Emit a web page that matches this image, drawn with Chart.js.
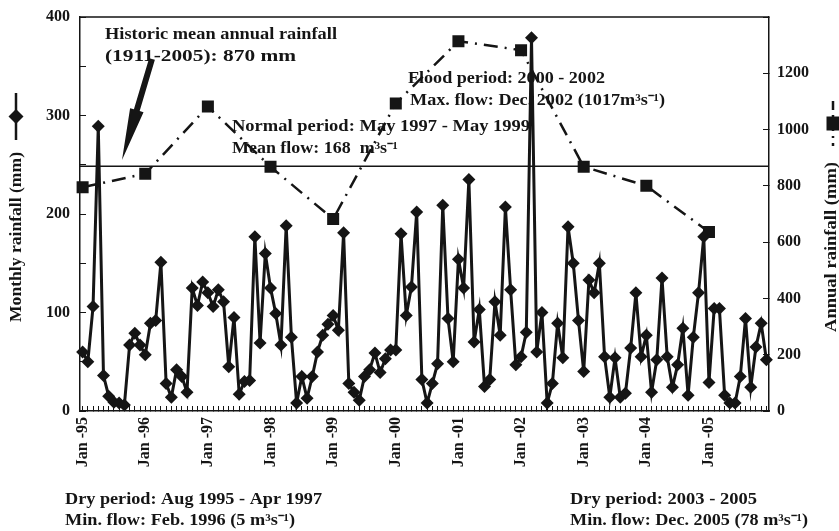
<!DOCTYPE html>
<html>
<head>
<meta charset="utf-8">
<script src="https://cdn.jsdelivr.net/npm/chart.js@4.4.0/dist/chart.umd.min.js"></script>
<style>
  html, body { margin: 0; padding: 0; background: #fff; }
</style>
</head>
<body>
<canvas id="rainChart" width="839" height="531"></canvas>
<script>
const years = ["95", "96", "97", "98", "99", "00", "01", "02", "03", "04", "05"];
const monthNames = ["Jan", "Feb", "Mar", "Apr", "May", "Jun", "Jul", "Aug", "Sep", "Oct", "Nov", "Dec"];

// monthly rainfall (mm), Jan..Dec
const rain1995 = [60, 50, 106, 289, 36, 15, 9, 8, 6, 67, 79, 67];
const rain1996 = [57, 89, 92, 151, 28, 14, 42, 35, 19, 125, 107, 131];
const rain1997 = [120, 106, 123, 111, 45, 95, 17, 30, 31, 177, 69, 160];
const rain1998 = [125, 99, 67, 188, 75, 8, 35, 13, 35, 60, 77, 88];
const rain1999 = [97, 82, 181, 28, 19, 11, 35, 42, 59, 39, 53, 62];
const rain2000 = [62, 180, 97, 126, 202, 32, 8, 28, 48, 209, 94, 50];
const rain2001 = [154, 125, 235, 70, 103, 25, 32, 111, 77, 207, 123, 47];
const rain2002 = [55, 80, 379, 60, 100, 8, 28, 89, 54, 187, 150, 92];
const rain2003 = [40, 133, 120, 150, 55, 14, 54, 14, 18, 64, 120, 55];
const rain2004 = [77, 19, 52, 135, 55, 24, 47, 84, 16, 75, 120, 177];
const rain2005 = [29, 104, 104, 16, 8, 8, 35, 94, 24, 65, 89, 52];

// annual rainfall (mm), 1995..2005
const annualRain = [795, 843, 1082, 868, 682, 1093, 1314, 1282, 868, 800, 636];
const historicMean = 870;

const labels = years.flatMap((y) => monthNames.map((m) => m + " -" + y));
const monthly = [].concat(rain1995, rain1996, rain1997, rain1998, rain1999, rain2000,
  rain2001, rain2002, rain2003, rain2004, rain2005);
const annual = labels.map((l, i) => (i % 12 === 0 ? annualRain[i / 12] : null));

const serif = "'Liberation Serif', 'Times New Roman', serif";
const ink = "#151515";

// squeeze/stretch a text line to the width seen on the figure
function putText(ctx, s, x, y, w, rot) {
  const m = ctx.measureText(s).width;
  ctx.save();
  ctx.translate(x, y);
  if (rot) ctx.rotate(rot);
  ctx.scale(w / m, 1);
  ctx.fillText(s, 0, 0);
  ctx.restore();
}

// little legend key drawn beside an axis title
function axisKey(ctx, x, yTop, yBot, shape) {
  const yc = (yTop + yBot) / 2;
  ctx.lineWidth = 2.5;
  ctx.beginPath();
  ctx.moveTo(x, yTop);
  ctx.lineTo(x, yBot);
  if (shape === "square") ctx.setLineDash([9, 5, 2, 5]);
  ctx.stroke();
  ctx.setLineDash([]);
  ctx.beginPath();
  if (shape === "diamond") {
    ctx.moveTo(x, yc - 7.5);
    ctx.lineTo(x + 7.5, yc);
    ctx.lineTo(x, yc + 7.5);
    ctx.lineTo(x - 7.5, yc);
  } else {
    ctx.rect(x - 6.5, yc - 7, 13, 14);
  }
  ctx.fill();
}

// the y axes should not push the plot down for their end labels
function fixWidth(w) {
  return (s) => {
    s.width = w;
    s.paddingTop = 0;
    s.paddingBottom = 0;
  };
}

const notes = {
  id: "notes",
  beforeDatasetsDraw(chart) {
    const { ctx, chartArea, scales } = chart;
    const yMean = scales.y2.getPixelForValue(historicMean);
    ctx.save();
    ctx.strokeStyle = ink;
    ctx.lineWidth = 1.5;
    ctx.beginPath();
    ctx.moveTo(chartArea.left, yMean);
    ctx.lineTo(chartArea.right, yMean);
    ctx.moveTo(chartArea.left, chartArea.top);
    ctx.lineTo(chartArea.right, chartArea.top);
    ctx.stroke();
    ctx.restore();
  },
  afterDraw(chart) {
    const ctx = chart.ctx;
    ctx.save();
    ctx.fillStyle = ink;
    ctx.strokeStyle = ink;
    ctx.textBaseline = "middle";
    ctx.font = "bold 16px " + serif;
    putText(ctx, "Historic mean annual rainfall", 105, 35, 232);
    putText(ctx, "(1911-2005): 870 mm", 105, 57, 191);
    putText(ctx, "Normal period: May 1997 - May 1999", 232, 127, 298);
    putText(ctx, "Mean flow: 168  m\u00B3s\u207B\u00B9", 232, 149, 166);
    putText(ctx, "Flood period: 2000 - 2002", 408, 79, 197);
    putText(ctx, "Max. flow: Dec. 2002 (1017m\u00B3s\u207B\u00B9)", 410, 101, 255);
    putText(ctx, "Dry period: Aug 1995 - Apr 1997", 65, 500, 257);
    putText(ctx, "Min. flow: Feb. 1996 (5 m\u00B3s\u207B\u00B9)", 65, 521, 230);
    putText(ctx, "Dry period: 2003 - 2005", 570, 500, 187);
    putText(ctx, "Min. flow: Dec. 2005 (78 m\u00B3s\u207B\u00B9)", 570, 521, 238);

    // axis titles, both read bottom to top
    ctx.font = "bold 17px " + serif;
    putText(ctx, "Monthly rainfall (mm)", 17, 322, 170, -Math.PI / 2);
    putText(ctx, "Annual rainfall (mm)", 832, 332, 170, -Math.PI / 2);
    axisKey(ctx, 16, 93, 140, "diamond");
    axisKey(ctx, 833, 101, 146, "square");

    // arrow pointing at the mean line
    const tail = { x: 152, y: 59 };
    const tip = { x: 122, y: 160 };
    const dx = tip.x - tail.x, dy = tip.y - tail.y;
    const len = Math.hypot(dx, dy);
    const ux = dx / len, uy = dy / len;
    const nx = -uy, ny = ux;
    const bx = tip.x - ux * 52, by = tip.y - uy * 52;
    ctx.beginPath();
    ctx.moveTo(tail.x + nx * 3, tail.y + ny * 3);
    ctx.lineTo(bx + nx * 3, by + ny * 3);
    ctx.lineTo(bx + nx * 7, by + ny * 7);
    ctx.lineTo(tip.x, tip.y);
    ctx.lineTo(bx - nx * 7, by - ny * 7);
    ctx.lineTo(bx - nx * 3, by - ny * 3);
    ctx.lineTo(tail.x - nx * 3, tail.y - ny * 3);
    ctx.closePath();
    ctx.fill();
    ctx.restore();
  },
};

const ctx = document.getElementById("rainChart").getContext("2d");
new Chart(ctx, {
  type: "line",
  data: {
    labels: labels,
    datasets: [
      {
        label: "Monthly rainfall (mm)",
        data: monthly,
        yAxisID: "y",
        borderColor: ink,
        backgroundColor: ink,
        borderWidth: 3,
        pointStyle: "rectRot",
        pointRadius: 6.5,
        pointBorderWidth: 0,
        tension: 0,
      },
      {
        label: "Annual rainfall (mm)",
        data: annual,
        yAxisID: "y2",
        spanGaps: true,
        borderColor: ink,
        backgroundColor: ink,
        borderWidth: 2.5,
        borderDash: [14, 7, 2, 7],
        pointStyle: "rect",
        pointRadius: 8.5,
        pointBorderWidth: 0,
        tension: 0,
      },
    ],
  },
  options: {
    responsive: false,
    animation: false,
    layout: { padding: { top: 17 } },
    plugins: {
      legend: { display: false },
      tooltip: { enabled: false },
    },
    scales: {
      x: {
        offset: true,
        afterFit: (s) => { s.height = 120; },
        grid: { drawOnChartArea: false, tickLength: -5, color: ink, lineWidth: 1 },
        border: { color: ink, width: 1.5 },
        ticks: {
          autoSkip: false,
          minRotation: 90,
          maxRotation: 90,
          padding: 11,
          color: ink,
          font: { family: serif, size: 16, weight: "bold" },
          callback: function (v, i) { return i % 12 === 0 ? this.getLabelForValue(v) : ""; },
        },
      },
      y: {
        position: "left",
        min: 0,
        max: 400,
        afterFit: fixWidth(80),
        grid: { drawOnChartArea: false, tickLength: -6, color: ink },
        border: { color: ink, width: 1.5 },
        ticks: {
          stepSize: 50,
          padding: 16,
          color: ink,
          font: { family: serif, size: 16, weight: "bold" },
          callback: (v) => (v % 100 === 0 ? v : ""),
        },
      },
      y2: {
        position: "right",
        min: 0,
        max: 1400,
        afterFit: fixWidth(70),
        grid: { drawOnChartArea: false, tickLength: -6, color: ink },
        border: { color: ink, width: 1.5 },
        ticks: {
          stepSize: 200,
          padding: 14,
          color: ink,
          font: { family: serif, size: 16, weight: "bold" },
          callback: (v) => (v <= 1200 ? v : ""),
        },
      },
    },
  },
  plugins: [notes],
});
</script>
</body>
</html>
